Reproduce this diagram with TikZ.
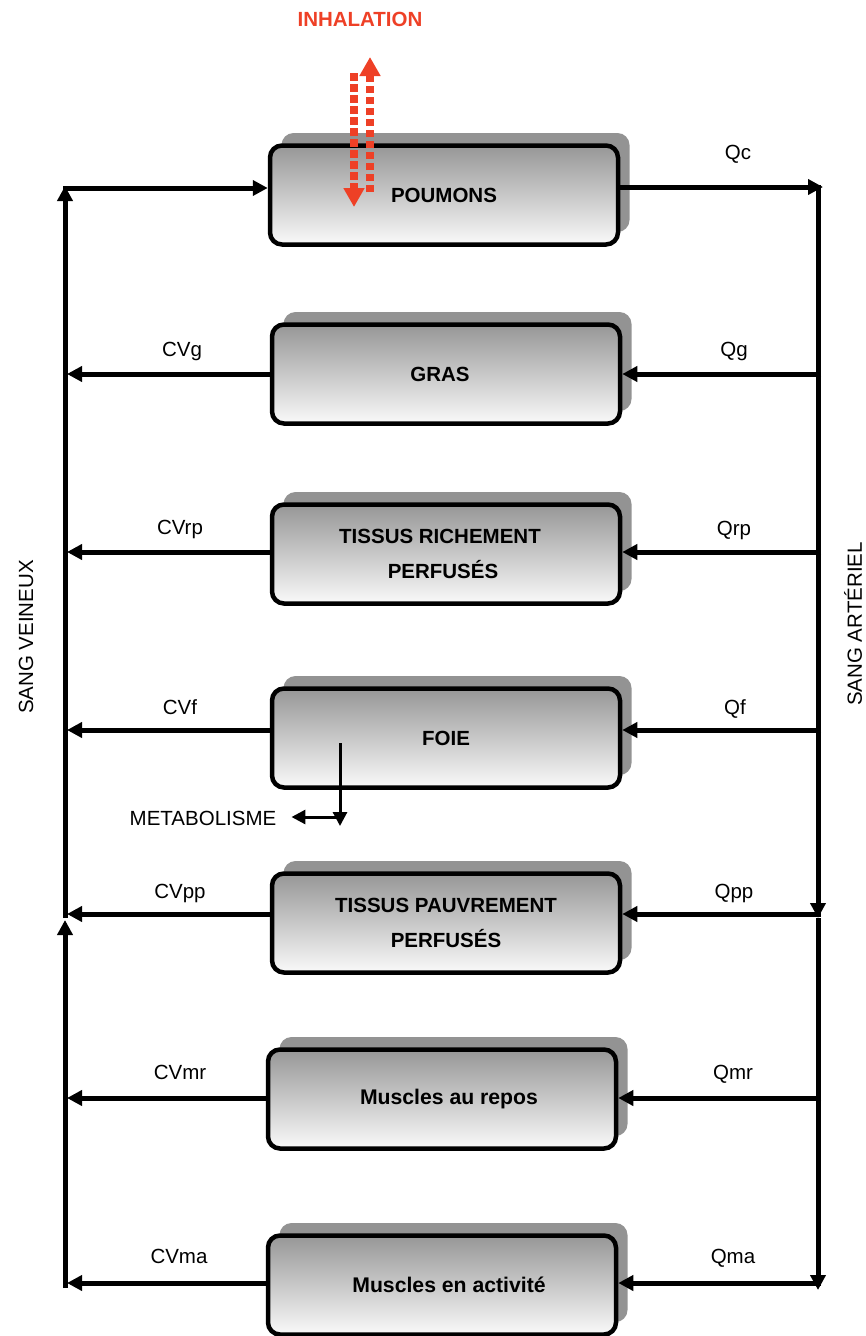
\documentclass[tikz,border=0pt]{standalone}
\usepackage{fontspec}
\setmainfont{Liberation Sans}
\usetikzlibrary{arrows.meta,shadows}
\definecolor{inhred}{RGB}{238,64,38}
\definecolor{shadowgray}{RGB}{147,147,147}
\definecolor{boxtop}{RGB}{150,150,150}
\definecolor{boxbot}{RGB}{250,250,250}
\begin{document}
\begin{tikzpicture}[x=1pt,y=-1pt,
  organ/.style={draw=black, line width=4.5pt, rounded corners=12pt,
    minimum width=348pt, minimum height=99pt, inner sep=0pt,
    top color=boxtop, bottom color=boxbot,
    drop shadow={shadow xshift=11.5pt, shadow yshift=12.5pt, fill=shadowgray, opacity=1},
    font=\bfseries\fontsize{20.5}{35}\selectfont, align=center},
  lowtext/.style={font=\bfseries\fontsize{21.2}{35}\selectfont},
  lbl/.style={inner sep=0pt, anchor=base, font=\fontsize{20.5}{24}\selectfont},
  arr/.style={line width=5pt, -{Triangle[length=15pt,width=15pt]}},
  thinarr/.style={line width=3pt, -{Triangle[length=14pt,width=14pt]}},
  inh/.style={draw=inhred, line width=7.5pt, dash pattern=on 7.5pt off 3.5pt,
    -{Triangle[length=19pt,width=20pt,fill=inhred]}}
]
\useasboundingbox (0,0) rectangle (865,1336);

% organ boxes
\node[organ] (poumons) at (444,195) {POUMONS};
\node[organ] (gras) at (446,374) {GRAS\hspace*{12pt}};
\node[organ] (trp) at (446,554) {TISSUS RICHEMENT\hspace*{12pt}\\PERFUSÉS\hspace*{6pt}};
\node[organ] (foie) at (446,738) {FOIE};
\node[organ] (tpp) at (446,923) {TISSUS PAUVREMENT\\PERFUSÉS};
\node[organ, lowtext] (mrep) at (442,1099) {\hspace*{14pt}Muscles au repos};
\node[organ, lowtext] (mact) at (442,1285) {\hspace*{14pt}Muscles en activité};

% main vertical lines
\coordinate (LT) at (65,186);
\coordinate (LTs) at (65,918);
\coordinate (LMe) at (65,920);
\coordinate (LB) at (65,1288);
\coordinate (LTc) at (63,188);
\coordinate (RT) at (818,185);
\coordinate (RM) at (818,918);
\coordinate (RB) at (818,1290);
\coordinate (QcEnd) at (823,187);

\draw[arr] (LTs) -- (LT);
\draw[arr] (LB) -- (LMe);
\draw[arr] (LTc) -- (LTc -| poumons.west);
\draw[arr] (QcEnd -| poumons.east) -- (QcEnd);
\draw[arr] (RT) -- (RM);
\draw[arr] (RM) -- (RB);

% rows
\foreach \b/\y in {gras/374, trp/552, foie/730, tpp/914, mrep/1098, mact/1283}{
  \coordinate (R\b) at (821,\y);
  \coordinate (L\b) at (67,\y);
  \draw[arr] (R\b) -- (R\b -| \b.east);
  \draw[arr] (L\b -| \b.west) -- (L\b);
}

% labels
\node[lbl] (lqc) at (738,159) {Qc};
\node[lbl] (lcvg) at (182,356) {CVg};
\node[lbl] (lqg) at (734,356) {Qg};
\node[lbl] (lcvrp) at (180,534) {CVrp};
\node[lbl] (lqrp) at (734,535) {Qrp};
\node[lbl] (lcvf) at (180,714) {CVf};
\node[lbl] (lqf) at (735,714) {Qf};
\node[lbl] (lcvpp) at (180,898) {CVpp};
\node[lbl] (lqpp) at (734,898) {Qpp};
\node[lbl] (lcvmr) at (180,1079) {CVmr};
\node[lbl] (lqmr) at (733,1079) {Qmr};
\node[lbl] (lcvma) at (179,1263) {CVma};
\node[lbl] (lqma) at (733,1263) {Qma};
\node[lbl, anchor=center, rotate=90] (sv) at (26,637) {SANG VEINEUX};
\node[lbl, anchor=center, rotate=90] (sa) at (853,624) {SANG ARTÉRIEL};

% metabolism
\node[lbl] (meta) at (203,825) {METABOLISME};
\coordinate (metA) at (340,743);
\coordinate (metB) at (340,826);
\coordinate (metC) at (341,817);
\draw[thinarr] (metA) -- (metB);
\draw[thinarr] (metC) -- ([xshift=15pt]meta.east |- metC);

% inhalation
\node[lbl, text=inhred, font=\bfseries\fontsize{20.5}{24}\selectfont] (inhal) at (360,26) {INHALATION};
\coordinate (inA) at (354,73);
\coordinate (inB) at (354,207);
\coordinate (inC) at (370,192);
\coordinate (inD) at (370,57);
\draw[inh] (inA) -- (inB);
\draw[inh] (inC) -- (inD);
\end{tikzpicture}
\end{document}
